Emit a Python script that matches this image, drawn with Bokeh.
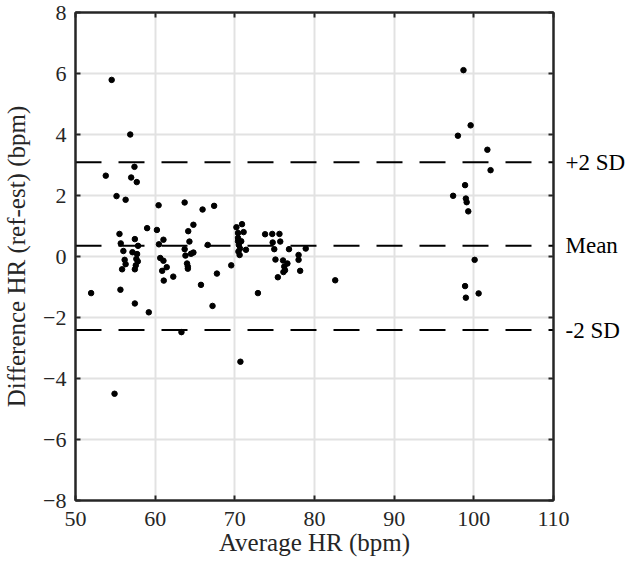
from bokeh.plotting import figure
from bokeh.models import Range1d, FixedTicker, LinearAxis
from bokeh.embed import file_html
from bokeh.resources import INLINE

avg_hr = [54.54, 56.87, 57.40, 53.80, 56.99, 57.69, 55.15, 56.29, 60.43, 58.99,
          60.22, 55.52, 57.45, 61.04, 55.68, 57.85, 60.47, 56.01, 57.15, 57.73,
          60.64, 56.17, 57.64, 61.04, 56.29, 57.82, 57.57, 61.45, 55.85, 57.45,
          60.88, 62.27, 61.08, 51.96, 55.64, 57.45, 59.20,
          63.70, 65.95, 67.40, 64.80, 64.15, 64.30, 63.70, 64.80, 64.50, 63.80,
          66.60, 64.00, 64.10, 64.10, 67.75, 65.75, 69.55, 72.90,
          70.20, 70.90, 71.10, 70.40, 70.40, 70.40, 70.80, 70.50, 70.65, 71.40,
          70.45, 70.60, 73.80, 74.70, 75.60, 74.75, 75.70, 74.95, 76.80, 78.90,
          78.00, 75.10, 78.00, 76.05, 76.60, 76.20, 76.30, 76.10, 78.20, 75.40,
          82.60,
          98.70, 99.60, 98.00, 101.70, 102.10, 98.90, 97.40, 99.00, 99.10, 99.30,
          100.10, 98.90, 100.60, 99.00,
          54.90, 70.70, 63.30, 67.20]
diff_hr = [5.79, 4.00, 2.94, 2.65, 2.59, 2.44, 1.98, 1.86, 1.68, 0.93,
           0.87, 0.74, 0.57, 0.55, 0.43, 0.35, 0.40, 0.18, 0.14, 0.08,
           -0.05, -0.11, -0.08, -0.14, -0.25, -0.16, -0.29, -0.35, -0.42, -0.42,
           -0.47, -0.66, -0.79, -1.20, -1.09, -1.54, -1.83,
           1.77, 1.54, 1.66, 1.04, 0.83, 0.49, 0.24, 0.13, 0.09, 0.03,
           0.38, -0.23, -0.33, -0.40, -0.56, -0.93, -0.29, -1.20,
           0.96, 1.06, 0.80, 0.77, 0.61, 0.50, 0.50, 0.38, 0.26, 0.22,
           0.16, 0.05, 0.73, 0.74, 0.74, 0.46, 0.49, 0.24, 0.24, 0.26,
           0.05, -0.10, -0.11, -0.13, -0.23, -0.33, -0.45, -0.51, -0.47, -0.68,
           -0.78,
           6.11, 4.30, 3.96, 3.50, 2.83, 2.34, 1.99, 1.90, 1.78, 1.48,
           -0.11, -0.97, -1.21, -1.35,
           -4.50, -3.45, -2.48, -1.62]

mean_diff = 0.35
upper_sd = 3.09
lower_sd = -2.41
line_names = ["-2 SD", "Mean", "+2 SD"]
line_vals = [lower_sd, mean_diff, upper_sd]

x_ticks = [50, 60, 70, 80, 90, 100, 110]
y_ticks = [-8, -6, -4, -2, 0, 2, 4, 6, 8]

FONT = "Liberation Serif"
AX = "#262626"
GRID = "#e2e2e2"

p = figure(width=628, height=563, output_backend="svg", toolbar_location=None,
           x_range=Range1d(50, 110), y_range=Range1d(-8, 8),
           min_border_left=66, min_border_right=74, min_border_top=12,
           min_border_bottom=63)
p.background_fill_color = "white"
p.border_fill_color = "white"
p.outline_line_color = AX
p.outline_line_width = 2

for ax in p.xaxis:
    ax.ticker = FixedTicker(ticks=x_ticks)
for ax in p.yaxis:
    ax.ticker = FixedTicker(ticks=y_ticks)

p.xgrid.ticker = FixedTicker(ticks=x_ticks)
p.ygrid.ticker = FixedTicker(ticks=y_ticks)
p.grid.grid_line_color = GRID
p.grid.grid_line_width = 2

def style_axis(ax):
    ax.axis_line_color = AX
    ax.axis_line_width = 2
    ax.major_tick_line_color = AX
    ax.major_tick_line_width = 2
    ax.major_tick_in = 5
    ax.major_tick_out = 0
    ax.minor_tick_line_color = None
    ax.major_label_text_font = FONT
    ax.major_label_text_font_size = "22px"
    ax.major_label_text_color = "#262626"
    ax.axis_label_text_font = FONT
    ax.axis_label_text_font_size = "25px"
    ax.axis_label_text_font_style = "normal"
    ax.axis_label_text_color = "#262626"

p.xaxis.axis_label = "Average HR (bpm)"
p.yaxis.axis_label = "Difference HR (ref-est) (bpm)"
style_axis(p.xaxis[0])
style_axis(p.yaxis[0])
p.xaxis.major_label_standoff = 11
p.xaxis.axis_label_standoff = 0
p.yaxis.major_label_standoff = 9
p.yaxis.axis_label_standoff = 10

# top axis (box) with ticks only
top = LinearAxis(ticker=FixedTicker(ticks=x_ticks))
style_axis(top)
top.major_label_text_font_size = "0px"
top.major_label_text_color = None
top.major_label_standoff = 0
p.add_layout(top, "above")

# right axis (box) with ticks only
right = LinearAxis(ticker=FixedTicker(ticks=y_ticks))
style_axis(right)
right.major_label_text_font_size = "0px"
right.major_label_text_color = None
right.major_label_standoff = 0
p.add_layout(right, "right")

# labels of the Bland-Altman lines, placed at the lines' values
names = {float(v): n for n, v in zip(line_names, line_vals)}
lab = LinearAxis(ticker=FixedTicker(ticks=line_vals),
                 major_label_overrides=names)
lab.axis_line_color = None
lab.major_tick_line_color = None
lab.minor_tick_line_color = None
lab.major_label_text_font = FONT
lab.major_label_text_font_size = "23px"
lab.major_label_text_color = "black"
lab.major_label_standoff = 6
p.add_layout(lab, "right")

# reference lines
for val in line_vals:
    p.line([50, 110], [val, val], line_color="black", line_width=2,
           line_dash="26 17")

p.scatter(avg_hr, diff_hr, size=5.5, color="black", marker="circle")

open("out.html", "w").write(file_html(p, INLINE))
